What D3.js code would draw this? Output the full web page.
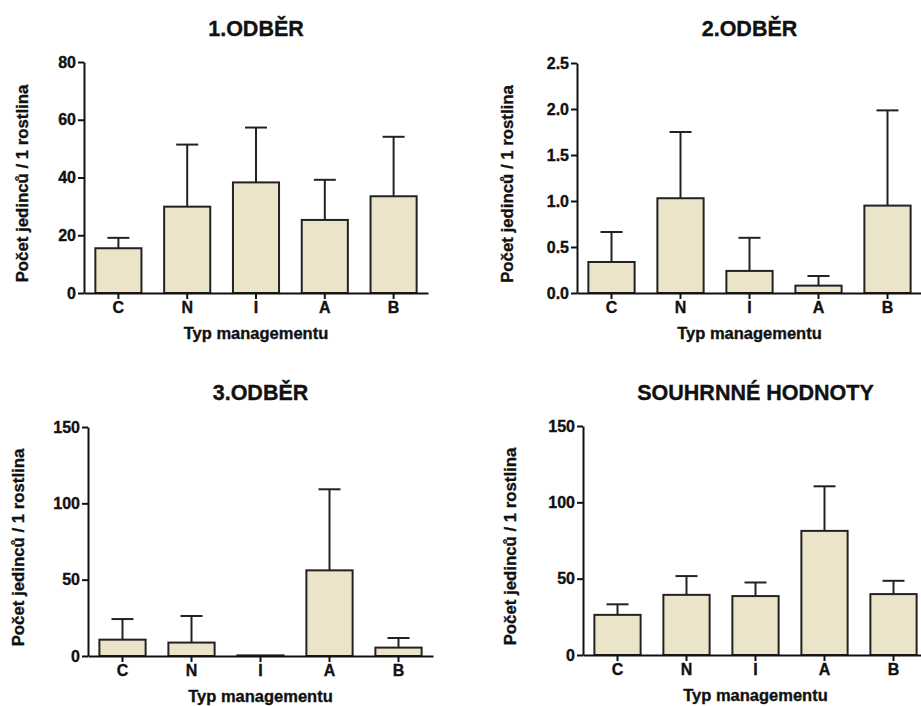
<!DOCTYPE html>
<html>
<head>
<meta charset="utf-8">
<script src="https://cdn.jsdelivr.net/npm/d3@7"></script>
<style>
  body { margin: 0; background: #fff; }
  svg text { font-family: "Liberation Sans", Arial, sans-serif; font-weight: bold; fill: #111; stroke: #111; stroke-width: 0.35; }
  .axis path, .axis line { stroke: #111; stroke-width: 2; }
</style>
</head>
<body>
<div id="chart"></div>
<script>
// Typy managementu
const categories = ['C', 'N', 'I', 'A', 'B'];

// 1. odběr
const odber1Means = [15.5, 29.9, 38.3, 25.3, 33.5];
const odber1Err = [3.6, 21.5, 19.0, 13.9, 20.6];
const odber1Ticks = [0, 20, 40, 60, 80];

// 2. odběr
const odber2Means = [0.337, 1.03, 0.24, 0.08, 0.95];
const odber2Err = [0.326, 0.72, 0.36, 0.105, 1.035];
const odber2Ticks = [0, 0.5, 1.0, 1.5, 2.0, 2.5];

// 3. odběr
const odber3Means = [10.7, 8.8, 0.4, 56.1, 5.5];
const odber3Err = [13.5, 17.4, 0, 53.1, 6.3];
const odber3Ticks = [0, 50, 100, 150];

// souhrnné hodnoty
const souhrnMeans = [26.3, 39.4, 38.6, 81.3, 39.9];
const souhrnErr = [6.9, 12.3, 8.9, 29.2, 8.7];
const souhrnTicks = [0, 50, 100, 150];

const W = 921, H = 706;
const svg = d3.select('#chart').append('svg')
  .attr('width', W)
  .attr('height', H);

const panels = [
  {title: '1.ODBĚR', means: odber1Means, err: odber1Err, ticks: odber1Ticks, fmt: d3.format('d'),
   x0: 84, x1: 428, yTop: 62, yBot: 293, titleY: 36, labelX: 22},
  {title: '2.ODBĚR', means: odber2Means, err: odber2Err, ticks: odber2Ticks, fmt: d3.format('.1f'),
   x0: 577, x1: 922, yTop: 63, yBot: 293, titleY: 36, labelX: 507},
  {title: '3.ODBĚR', means: odber3Means, err: odber3Err, ticks: odber3Ticks, fmt: d3.format('d'),
   x0: 88, x1: 433, yTop: 427, yBot: 656, titleY: 400, labelX: 18},
  {title: 'SOUHRNNÉ HODNOTY', means: souhrnMeans, err: souhrnErr, ticks: souhrnTicks, fmt: d3.format('d'),
   x0: 583, x1: 928, yTop: 426, yBot: 655, titleY: 400, labelX: 510}
];

panels.forEach(drawPanel);

function drawPanel(p) {
  const g = svg.append('g');
  const data = categories.map((c, i) => ({cat: c, mean: p.means[i], err: p.err[i]}));

  const x = d3.scaleBand()
    .domain(categories)
    .range([p.x0, p.x1])
    .paddingInner(0.33)
    .paddingOuter(0.165);

  const y = d3.scaleLinear()
    .domain([0, d3.max(p.ticks)])
    .range([p.yBot, p.yTop]);

  const capHalf = 11;

  // Error bars (upper only)
  const eb = g.append('g')
    .selectAll('g')
    .data(data.filter(d => d.err > 0))
    .enter()
    .append('g');

  eb.append('line')
    .attr('x1', d => x(d.cat) + x.bandwidth() / 2)
    .attr('x2', d => x(d.cat) + x.bandwidth() / 2)
    .attr('y1', d => y(d.mean))
    .attr('y2', d => y(d.mean + d.err))
    .attr('stroke', '#222')
    .attr('stroke-width', 2);

  eb.append('line')
    .attr('x1', d => x(d.cat) + x.bandwidth() / 2 - capHalf)
    .attr('x2', d => x(d.cat) + x.bandwidth() / 2 + capHalf)
    .attr('y1', d => y(d.mean + d.err))
    .attr('y2', d => y(d.mean + d.err))
    .attr('stroke', '#222')
    .attr('stroke-width', 2);

  // Bars
  g.append('g')
    .selectAll('rect')
    .data(data)
    .enter()
    .append('rect')
    .attr('x', d => x(d.cat))
    .attr('y', d => y(d.mean))
    .attr('width', x.bandwidth())
    .attr('height', d => y(0) - y(d.mean))
    .attr('fill', '#ece4c8')
    .attr('stroke', '#222')
    .attr('stroke-width', 2);

  // Axes
  g.append('g')
    .attr('class', 'axis')
    .attr('transform', `translate(${p.x0},0)`)
    .call(d3.axisLeft(y).tickValues(p.ticks).tickFormat(p.fmt).tickSize(6).tickSizeOuter(0).tickPadding(2))
    .selectAll('text')
    .style('font-size', '16px');

  g.append('g')
    .attr('class', 'axis')
    .attr('transform', `translate(0,${p.yBot})`)
    .call(d3.axisBottom(x).tickSize(6).tickSizeOuter(0).tickPadding(3))
    .selectAll('text')
    .style('font-size', '16px');

  // Titles
  const cx = (p.x0 + p.x1) / 2;
  g.append('text')
    .attr('x', cx)
    .attr('y', p.titleY)
    .attr('text-anchor', 'middle')
    .style('font-size', '21.5px')
    .text(p.title);

  g.append('text')
    .attr('x', cx)
    .attr('y', p.yBot + 46)
    .attr('text-anchor', 'middle')
    .style('font-size', '16.5px')
    .text('Typ managementu');

  g.append('text')
    .attr('transform', `translate(${p.labelX},${(p.yTop + p.yBot) / 2 + 6}) rotate(-90)`)
    .attr('text-anchor', 'middle')
    .attr('dy', '0.35em')
    .style('font-size', '16.8px')
    .text('Počet jedinců / 1 rostlina');
}
</script>
</body>
</html>
